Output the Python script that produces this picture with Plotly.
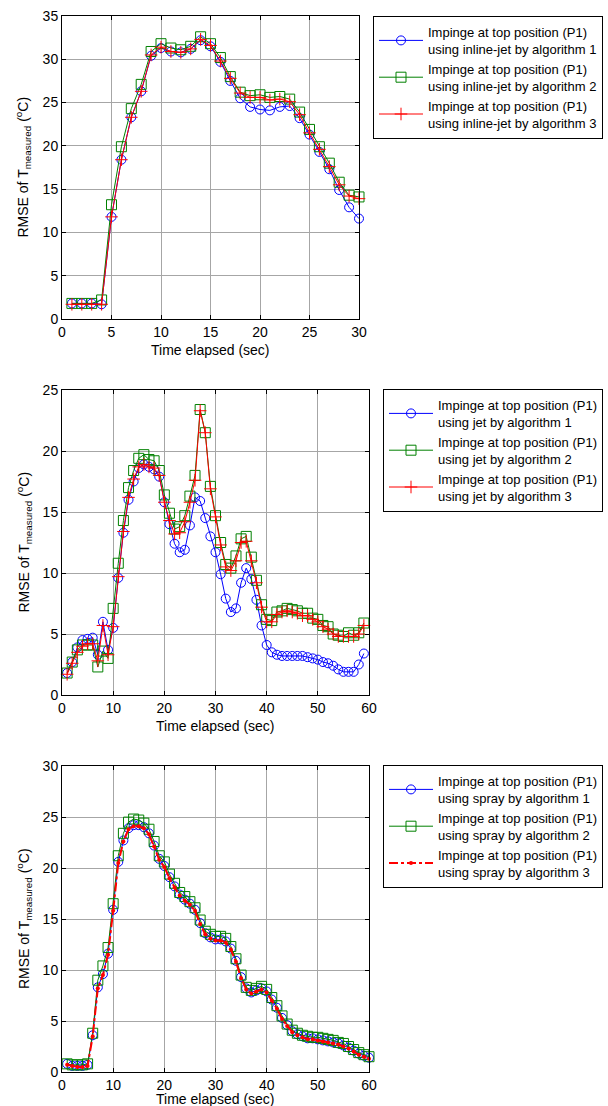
import plotly.graph_objects as go

# ---------------- data ----------------
t1 = list(range(1, 31))
p1_alg1 = [1.8, 1.8, 1.8, 1.7, 11.8, 18.4, 23.3, 26.3, 30.4, 31.3, 30.9, 30.8, 31.2, 32.2, 31.5,
           29.7, 27.5, 25.5, 24.5, 24.2, 24.1, 24.5, 24.6, 23.2, 21.3, 19.3, 17.3, 14.9, 12.9, 11.6]
p1_alg2 = [1.8, 1.8, 1.8, 2.2, 13.2, 19.9, 24.3, 27.1, 30.9, 31.8, 31.3, 31.1, 31.5, 32.6, 31.8,
           30.2, 28.0, 26.2, 25.8, 25.9, 25.6, 25.7, 25.4, 23.9, 21.9, 19.9, 18.0, 15.8, 14.3, 14.1]
p1_alg3 = [1.7, 1.7, 1.7, 1.7, 11.8, 18.4, 23.3, 26.3, 30.5, 31.4, 30.9, 30.8, 31.2, 32.3, 31.6,
           29.8, 27.8, 26.1, 25.6, 25.6, 25.3, 25.4, 25.1, 23.6, 21.5, 19.6, 17.6, 15.5, 14.2, 13.9]

t2 = list(range(1, 60))
p2_alg1 = [1.8, 2.7, 3.9, 4.5, 4.6, 4.7, 3.3, 6.0, 3.7, 5.5, 9.6, 13.3, 16.0, 17.5, 18.6, 18.9,
           18.7, 18.5, 17.9, 15.8, 14.0, 12.4, 11.7, 11.9, 13.9, 16.2, 15.9, 14.5, 13.0, 11.7, 9.9,
           7.9, 6.8, 7.1, 9.2, 10.4, 9.5, 7.8, 5.7, 4.1, 3.5, 3.3, 3.2, 3.2, 3.2, 3.2, 3.2, 3.1,
           3.0, 2.9, 2.7, 2.6, 2.4, 2.1, 1.9, 1.9, 1.9, 2.5, 3.4]
p2_alg2 = [1.8, 2.7, 3.7, 4.1, 4.1, 4.1, 2.3, 3.6, 3.0, 7.1, 10.8, 14.3, 17.0, 18.4, 19.4, 19.7,
           19.3, 19.2, 18.4, 16.4, 14.9, 13.6, 13.8, 14.7, 16.3, 18.0, 23.4, 21.5, 17.1, 14.7, 12.5,
           10.7, 10.4, 11.4, 12.8, 13.0, 11.3, 9.4, 7.4, 6.2, 6.1, 6.8, 6.9, 7.1, 7.0, 6.9, 6.7, 6.7,
           6.3, 6.2, 5.7, 5.6, 5.0, 4.9, 4.8, 5.1, 4.9, 5.1, 5.9]
p2_alg3 = [1.7, 2.6, 3.5, 4.0, 4.2, 4.2, 2.8, 5.7, 3.3, 5.6, 9.7, 13.4, 16.2, 17.7, 18.7, 18.9,
           18.7, 18.6, 18.0, 15.8, 14.3, 13.2, 13.3, 14.2, 15.8, 17.6, 23.3, 21.5, 16.9, 14.6, 12.3,
           10.5, 10.2, 11.0, 12.5, 12.6, 11.0, 9.2, 7.2, 6.0, 6.0, 6.6, 6.8, 6.9, 6.8, 6.7, 6.5, 6.5,
           6.2, 6.0, 5.6, 5.4, 5.0, 4.8, 4.8, 4.8, 4.8, 5.0, 5.7]

t3 = list(range(1, 61))
p3_alg1 = [0.8, 0.6, 0.6, 0.6, 0.7, 3.6, 8.3, 9.6, 11.6, 15.9, 20.6, 22.7, 23.9, 24.2, 24.2, 24.0,
           23.4, 22.2, 20.9, 20.2, 19.1, 18.2, 17.4, 16.9, 16.5, 15.9, 14.6, 13.6, 13.2, 13.0, 13.0,
           12.8, 12.1, 10.9, 9.3, 8.2, 7.8, 8.0, 8.2, 7.9, 7.1, 6.3, 5.3, 4.6, 4.0, 3.7, 3.5, 3.3,
           3.3, 3.2, 3.1, 3.0, 2.9, 2.8, 2.6, 2.4, 2.1, 1.8, 1.6, 1.4]
p3_alg2 = [0.8, 0.7, 0.7, 0.7, 0.8, 3.8, 9.0, 10.4, 12.2, 16.5, 21.2, 23.4, 24.5, 24.8, 24.7, 24.4,
           23.8, 22.6, 21.2, 20.6, 19.4, 18.5, 17.6, 17.2, 16.7, 16.1, 14.9, 13.8, 13.5, 13.3, 13.3,
           13.1, 12.3, 11.1, 9.5, 8.3, 8.0, 8.2, 8.4, 8.1, 7.3, 6.5, 5.5, 4.7, 4.1, 3.8, 3.6, 3.5,
           3.4, 3.4, 3.3, 3.2, 3.1, 2.9, 2.8, 2.5, 2.2, 1.9, 1.7, 1.5]
p3_alg3 = [0.7, 0.6, 0.5, 0.5, 0.6, 3.5, 8.2, 9.5, 11.5, 15.8, 20.5, 22.6, 23.8, 24.1, 24.1, 23.9,
           23.3, 22.1, 20.8, 20.1, 19.0, 18.1, 17.3, 16.8, 16.4, 15.8, 14.5, 13.5, 13.1, 12.9, 12.9,
           12.7, 12.0, 10.8, 9.2, 8.1, 7.7, 7.9, 8.1, 7.8, 7.0, 6.2, 5.2, 4.5, 3.9, 3.6, 3.4, 3.2,
           3.2, 3.1, 3.0, 2.9, 2.8, 2.7, 2.5, 2.3, 2.0, 1.7, 1.5, 1.3]

legend_names = {
    1: ["Impinge at top position (P1)<br>using inline-jet by algorithm 1",
        "Impinge at top position (P1)<br>using inline-jet by algorithm 2",
        "Impinge at top position (P1)<br>using inline-jet by algorithm 3"],
    2: ["Impinge at top position (P1)<br>using jet by algorithm 1",
        "Impinge at top position (P1)<br>using jet by algorithm 2",
        "Impinge at top position (P1)<br>using jet by algorithm 3"],
    3: ["Impinge at top position (P1)<br>using spray by algorithm 1",
        "Impinge at top position (P1)<br>using spray by algorithm 2",
        "Impinge at top position (P1)<br>using spray by algorithm 3"],
}

FONT = "Liberation Sans, Arial, sans-serif"
W, H = 608, 1106

fig = go.Figure()

panels = [
    (1, t1, [p1_alg1, p1_alg2, p1_alg3], "x", "y", "legend"),
    (2, t2, [p2_alg1, p2_alg2, p2_alg3], "x2", "y2", "legend2"),
    (3, t3, [p3_alg1, p3_alg2, p3_alg3], "x3", "y3", "legend3"),
]

for k, t, series, xa, ya, lg in panels:
    a1, a2, a3 = series
    fig.add_trace(go.Scatter(
        x=t, y=a1, xaxis=xa, yaxis=ya, legend=lg, name=legend_names[k][0],
        mode="lines+markers", cliponaxis=False,
        line=dict(color="#0000ff", width=1),
        marker=dict(symbol="circle-open", size=9, color="#0000ff", line=dict(width=1, color="#0000ff"))))
    fig.add_trace(go.Scatter(
        x=t, y=a2, xaxis=xa, yaxis=ya, legend=lg, name=legend_names[k][1],
        mode="lines+markers", cliponaxis=False,
        line=dict(color="#008000", width=1),
        marker=dict(symbol="square-open", size=10, color="#008000", line=dict(width=1, color="#008000"))))
    if k < 3:
        fig.add_trace(go.Scatter(
            x=t, y=a3, xaxis=xa, yaxis=ya, legend=lg, name=legend_names[k][2],
            mode="lines+markers", cliponaxis=False,
            line=dict(color="#ff0000", width=1),
            marker=dict(symbol="cross-thin-open", size=9, color="#ff0000", line=dict(width=1, color="#ff0000"))))
    else:
        fig.add_trace(go.Scatter(
            x=t, y=a3, xaxis=xa, yaxis=ya, legend=lg, name=legend_names[k][2],
            mode="lines+markers", cliponaxis=False,
            line=dict(color="#ff0000", width=2, dash="dashdot"),
            marker=dict(symbol="circle", size=4, color="#ff0000")))

def px_x(p):
    return p / W

def px_y(p):
    return 1 - p / H

axis_common = dict(
    showline=True, linecolor="black", linewidth=1, mirror="ticks",
    ticks="inside", ticklen=4, tickcolor="black", tickwidth=1,
    showgrid=True, gridcolor="#a6a6a6", gridwidth=1, zeroline=False,
    tickfont=dict(family=FONT, size=14, color="black"),
)

# panel pixel boxes: (left, right, top, bottom)
boxes = {1: (62, 359, 16, 319), 2: (62, 369, 390, 695), 3: (62, 369, 766, 1072)}
xranges = {1: [0, 30], 2: [0, 60], 3: [0, 60]}
yranges = {1: [0, 35], 2: [0, 25], 3: [0, 30]}
xdt = {1: 5, 2: 10, 3: 10}
ydt = {1: 5, 2: 5, 3: 5}

layout = dict(
    width=W, height=H, margin=dict(l=0, r=0, t=0, b=0, autoexpand=False),
    paper_bgcolor="white", plot_bgcolor="white", showlegend=True,
    font=dict(family=FONT, size=14, color="black"),
)
names = {1: ("xaxis", "yaxis", "y", "x"), 2: ("xaxis2", "yaxis2", "y2", "x2"), 3: ("xaxis3", "yaxis3", "y3", "x3")}
annotations = []
xtitle_y = {1: 350, 2: 726, 3: 1099}
for k in (1, 2, 3):
    l, r, tp, bt = boxes[k]
    xn, yn, yref, xref = names[k]
    layout[xn] = dict(axis_common, domain=[px_x(l), px_x(r)], range=xranges[k], anchor=yref,
                      tick0=0, dtick=xdt[k], fixedrange=True)
    layout[yn] = dict(axis_common, domain=[px_y(bt), px_y(tp)], range=yranges[k], anchor=xref,
                      tick0=0, dtick=ydt[k], fixedrange=True)
    annotations.append(dict(
        text="Time elapsed (sec)", xref="paper", yref="paper",
        x=px_x((l + r) / 2), y=px_y(xtitle_y[k]), xanchor="center", yanchor="middle",
        showarrow=False, font=dict(family=FONT, size=14, color="black")))
    annotations.append(dict(
        text="RMSE of T<sub>measured</sub> (<sup>o</sup>C)", xref="paper", yref="paper",
        x=px_x(24), y=px_y((tp + bt) / 2), xanchor="center", yanchor="middle", textangle=-90,
        showarrow=False, font=dict(family=FONT, size=14, color="black")))

legend_common = dict(
    xanchor="left", yanchor="top", bgcolor="white", bordercolor="black", borderwidth=1,
    font=dict(family=FONT, size=13, color="black"), traceorder="normal",
    tracegroupgap=0, itemwidth=44,
)
layout["legend"] = dict(legend_common, x=px_x(373), y=px_y(16))
layout["legend2"] = dict(legend_common, x=px_x(383), y=px_y(389))
layout["legend3"] = dict(legend_common, x=px_x(383), y=px_y(765))
layout["annotations"] = annotations

fig.update_layout(**layout)
fig.write_html("out.html")
